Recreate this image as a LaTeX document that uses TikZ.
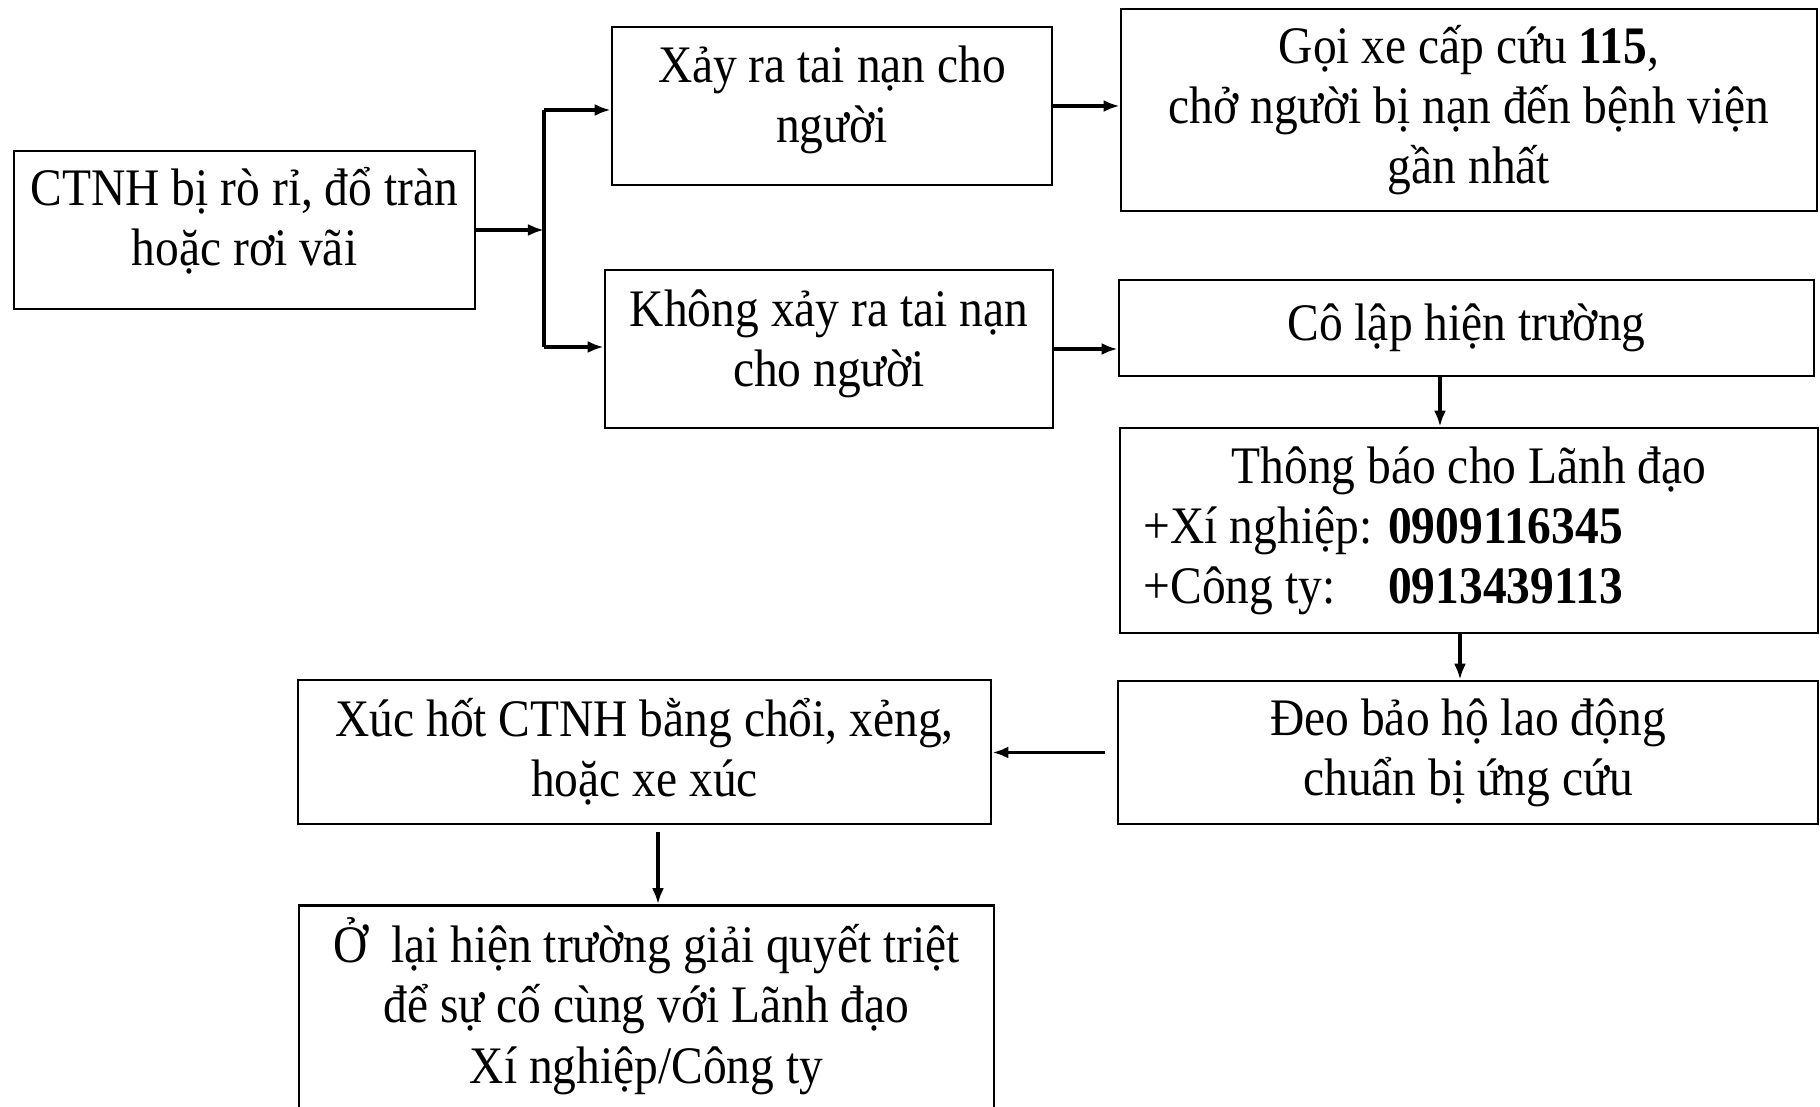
\documentclass[tikz,border=0pt]{standalone}
\usepackage{fontspec}
\setmainfont[FakeStretch=0.9]{Liberation Serif}
\usepackage{tikz}
\usetikzlibrary{arrows,arrows.meta,positioning,calc}

\begin{document}
\begin{tikzpicture}
	% Styles
	[
	x=0.01cm, y=-0.01cm,
	box/.style={rectangle,draw,line width=0.7pt,inner sep=2pt,align=center,font=\fontsize{15}{17.1}\selectfont},
	link/.style={draw,line width=0.9pt,-{Latex[length=0.16cm,width=0.12cm]}},
	]

	\useasboundingbox (0,0) rectangle (1820,1107);
	\clip (0,0) rectangle (1820,1107);

	% Nodes
	\node at (244.5,230)	(leak)		[box,minimum width=4.61cm,minimum height=1.58cm,text depth=0.28cm] {CTNH bị rò rỉ, đổ tràn\\hoặc rơi vãi};
	\node at (832,106)		(hurt)		[box,minimum width=4.40cm,minimum height=1.58cm,text depth=0.23cm] {Xảy ra tai nạn cho\\người};
	\node at (1469,110)		(ambulance)	[box,minimum width=6.96cm,minimum height=2.02cm] {Gọi xe cấp cứu \textbf{115},\\chở người bị nạn đến bệnh viện\\gần nhất};
	\node at (829,349)		(nohurt)	[box,minimum width=4.48cm,minimum height=1.58cm,text depth=0.21cm] {Không xảy ra tai nạn\\cho người};
	\node at (1466.5,328)	(isolate)	[box,minimum width=6.95cm,minimum height=0.96cm] {Cô lập hiện trường};
	\node at (1469,530.5)	(notify)	[box,minimum width=6.98cm,minimum height=2.05cm,align=left]
		{\makebox[6.5cm]{Thông báo cho Lãnh đạo}\\
		 +Xí nghiệp: \textbf{0909116345}\\
		 \rlap{+Công ty:}\phantom{+Xí nghiệp: }\textbf{0913439113}};
	\node at (1468,752.5)	(protect)	[box,minimum width=7.00cm,minimum height=1.43cm] {Đeo bảo hộ lao động\\chuẩn bị ứng cứu};
	\node at (644.5,752)	(collect)	[box,minimum width=6.93cm,minimum height=1.44cm] {Xúc hốt CTNH bằng chổi, xẻng,\\hoặc xe xúc};
	\node at (646.5,1008)	(stay)		[box,minimum width=6.95cm,minimum height=2.05cm,text depth=0.15cm] {Ở\ \ lại hiện trường giải quyết triệt\\để sự cố cùng với Lãnh đạo\\Xí nghiệp/Công ty};

	% Junction
	\coordinate (jtop) at (544,110);
	\coordinate (jbot) at (544,347);
	\coordinate (c56) at (1440,0);
	\coordinate (c67) at (1460,0);
	\coordinate (c89) at (658,0);

	% Connections
	\draw[link] (leak.east) -- (leak.east -| jtop);
	\draw[line width=0.9pt] (jtop) -- (jbot);
	\draw[link] (jtop) -- (jtop -| hurt.west);
	\draw[link] (jbot) -- (jbot -| nohurt.west);
	\draw[link] (hurt.east) -- (hurt.east -| ambulance.west);
	\draw[link] (nohurt.east) -- (nohurt.east -| isolate.west);
	\draw[link] (isolate.south -| c56) -- (notify.north -| c56);
	\draw[link] (notify.south -| c67) -- (protect.north -| c67);
	\draw[link,shorten <=0.12cm] (protect.west) -- (protect.west -| collect.east);
	\draw[link,shorten <=0.07cm] (collect.south -| c89) -- (stay.north -| c89);

\end{tikzpicture}
\end{document}
